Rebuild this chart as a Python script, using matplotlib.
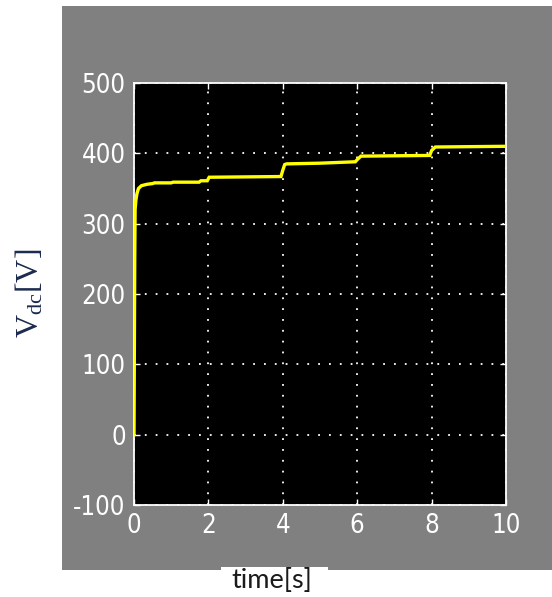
import matplotlib
matplotlib.use("Agg")
import matplotlib.pyplot as plt
from matplotlib.patches import Rectangle
from matplotlib import font_manager as fm

plt.rcParams["mathtext.fontset"] = "custom"
plt.rcParams["mathtext.rm"] = "Liberation Serif"
plt.rcParams["mathtext.it"] = "Liberation Serif:italic"

# Data
t = [0.0, 0.0, 0.02, 0.03, 0.05, 0.08, 0.12, 0.2, 0.35, 0.5, 0.55, 1.0, 1.05, 1.75, 1.8,
     1.97, 2.02, 3.95, 4.0, 4.05, 4.1, 5.0, 5.95, 6.0, 6.1, 7.95, 8.0, 8.1, 10.0]
vdc = [0, 0, 250, 320, 333, 343, 350, 354, 356, 357, 358, 358, 359, 359, 361,
       361, 366, 367, 376, 384, 385, 386, 388, 391, 396, 397, 404, 409, 410]

xticks = [0, 2, 4, 6, 8, 10]
yticks = [-100, 0, 100, 200, 300, 400, 500]

# pick a narrow font for tick labels if one is installed
names = {f.name: f for f in fm.fontManager.ttflist}
narrow = [f for f in fm.fontManager.ttflist
          if ("Narrow" in f.name or "Condensed" in f.name or "condensed" in str(f.stretch))]
if "Liberation Sans Narrow" in names:
    tick_font = dict(family="Liberation Sans Narrow", size=18.5, stretch="normal")
elif narrow:
    tick_font = dict(family=narrow[0].name, size=18.5, stretch=narrow[0].stretch)
else:
    tick_font = dict(family="DejaVu Sans", size=15, stretch="normal")

W, H = 552, 597
fig = plt.figure(figsize=(W / 100, H / 100), dpi=100)
fig.patch.set_facecolor("white")

# gray panel
fig.patches.append(Rectangle((62 / W, 1 - 570 / H), 1 - 62 / W, (570 - 6) / H,
                             transform=fig.transFigure, facecolor="#808080",
                             edgecolor="none", zorder=-3))
# white box behind x label
fig.patches.append(Rectangle((221 / W, 0), (328 - 221) / W, 1 - 567 / H,
                             transform=fig.transFigure, facecolor="white",
                             edgecolor="none", zorder=-2))

ax = fig.add_axes([134 / W, 1 - 505 / H, (506 - 134) / W, (505 - 83) / H])
ax.set_zorder(2)
ax.set_facecolor("black")
ax.plot(t, vdc, color="#ffff00", lw=2.4, zorder=3, solid_joinstyle="miter")

ax.set_xlim(0, 10)
ax.set_ylim(-100, 500)
ax.set_xticks(xticks)
ax.set_yticks(yticks)
ax.set_xticklabels([str(v) for v in xticks])
ax.set_yticklabels([str(v) for v in yticks])

for s in ax.spines.values():
    s.set_color("white")
    s.set_linewidth(1.3)

ax.tick_params(direction="in", colors="white", length=4, width=1,
               top=True, right=True, pad=6)
for lab in ax.get_xticklabels() + ax.get_yticklabels():
    lab.set_fontfamily(tick_font["family"])
    lab.set_fontsize(tick_font["size"])
    lab.set_fontstretch(tick_font["stretch"])
    lab.set_color("white")

ax.grid(True, color="white", linestyle=(0, (1, 5)), linewidth=1.3)
ax.set_axisbelow(False)

# y label
fig.text(30 / W, 1 - 293 / H, r"$\mathrm{V}_{\mathrm{dc}}\mathrm{[V]}$", rotation=90,
         ha="center", va="center", fontsize=23, color="#1c2a4f", zorder=3)

# x label
fig.text(272 / W, 1 - 581 / H, "time[s]", ha="center", va="center",
         fontsize=19.5, color="#1a1a1a", family=["Lato", "DejaVu Sans"], zorder=3)

fig.savefig("out.png", dpi=100, facecolor="white")
